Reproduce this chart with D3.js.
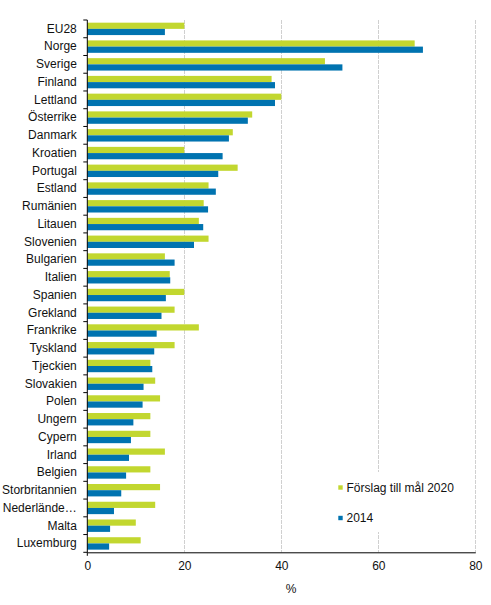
<!DOCTYPE html>
<html>
<head>
<meta charset="utf-8">
<script src="https://cdn.jsdelivr.net/npm/d3@7"></script>
<style>
  html, body { margin: 0; padding: 0; background: #fff; }
  svg { display: block; font-family: "Liberation Sans", Arial, sans-serif; }
</style>
</head>
<body>
<svg id="chart" width="491" height="605"></svg>
<script>
const categories = ["EU28","Norge","Sverige","Finland","Lettland","Österrike","Danmark","Kroatien","Portugal","Estland","Rumänien","Litauen","Slovenien","Bulgarien","Italien","Spanien","Grekland","Frankrike","Tyskland","Tjeckien","Slovakien","Polen","Ungern","Cypern","Irland","Belgien","Storbritannien","Nederlände…","Malta","Luxemburg"];
const goal2020 = [20,67.5,49,38,40,34,30,20,31,25,24,23,25,16,17,20,18,23,18,13,14,15,13,13,16,13,15,14,10,11];
const values2014 = [16,69.2,52.6,38.7,38.7,33.1,29.2,27.9,27,26.5,24.9,23.9,22,18,17.1,16.2,15.3,14.3,13.8,13.4,11.6,11.4,9.5,9,8.6,8,7,5.5,4.7,4.5];
const seriesNames = ["Förslag till mål 2020","2014"];
const seriesKeys = ["goal","y2014"];
const xTicks = [0,20,40,60,80];
const colors = {goal: "#c2d72f", y2014: "#0073b0"};

const data = categories.map((c,i) => ({name: c, goal: goal2020[i], y2014: values2014[i]}));

const svg = d3.select("#chart");
const mLeft = 87.3, mRight = 475.3, mTop = 20, mBottom = 552.3;

const x = d3.scaleLinear().domain([0,80]).range([mLeft, mRight]);
const y = d3.scaleBand().domain(categories).range([mTop, mBottom]).padding(0);
const ySub = d3.scaleBand().domain(seriesKeys).range([0, y.bandwidth()]).paddingInner(0).paddingOuter(0.43);

// gridlines
svg.append("g").selectAll("line").data(xTicks.filter(d => d > 0)).join("line")
  .attr("x1", d => Math.round(x(d)) + 0.5).attr("x2", d => Math.round(x(d)) + 0.5)
  .attr("y1", mTop).attr("y2", mBottom)
  .attr("stroke", "#d0d0d0").attr("stroke-width", 1).attr("stroke-dasharray", "4,1");

// bars
const rows = svg.append("g").selectAll("g").data(data).join("g")
  .attr("transform", d => `translate(0,${y(d.name)})`);
rows.selectAll("rect").data(d => seriesKeys.map(k => ({k, v: d[k]}))).join("rect")
  .attr("x", x(0))
  .attr("y", d => ySub(d.k))
  .attr("width", d => x(d.v) - x(0))
  .attr("height", ySub.bandwidth())
  .attr("fill", d => colors[d.k]);

// legend (white box hides gridline)
const lg = svg.append("g");
lg.append("rect").attr("x", 334).attr("y", 472).attr("width", 128).attr("height", 60).attr("fill", "#fff");
seriesKeys.forEach((k, i) => {
  const cy = 487.5 + i * 30.5;
  lg.append("rect").attr("x", 338.3).attr("y", cy - 2.2).attr("width", 4.4).attr("height", 4.4).attr("fill", colors[k]);
  lg.append("text").attr("x", 346.5).attr("y", cy + 4.3).attr("font-size", 12).attr("fill", "#111").text(seriesNames[i]);
});

// y axis
const yAxis = svg.append("g").attr("transform", `translate(${mLeft},0)`)
  .call(d3.axisLeft(y).tickSize(0).tickPadding(10.5));
yAxis.select(".domain").remove();
yAxis.selectAll("text").attr("font-size", 12).attr("fill", "#111").attr("font-family", "Liberation Sans, Arial, sans-serif");
const bounds = categories.map(c => y(c)).concat([mBottom]);
svg.append("g").selectAll("line").data(bounds).join("line")
  .attr("x1", mLeft - 4).attr("x2", mLeft).attr("y1", d => d).attr("y2", d => d)
  .attr("stroke", "#000").attr("stroke-width", 1);
svg.append("line").attr("x1", mLeft).attr("x2", mLeft).attr("y1", mTop).attr("y2", mBottom + 3.5)
  .attr("stroke", "#000").attr("stroke-width", 1);

// x axis
const xAxis = svg.append("g").attr("transform", `translate(0,${mBottom})`)
  .call(d3.axisBottom(x).tickValues(xTicks).tickSize(0).tickPadding(9));
xAxis.select(".domain").attr("stroke", "#000");
xAxis.selectAll("text").attr("font-size", 12).attr("fill", "#111").attr("font-family", "Liberation Sans, Arial, sans-serif");

svg.append("text").attr("x", 291).attr("y", 592.5).attr("text-anchor", "middle")
  .attr("font-size", 12).attr("fill", "#111").text("%");
</script>
</body>
</html>
